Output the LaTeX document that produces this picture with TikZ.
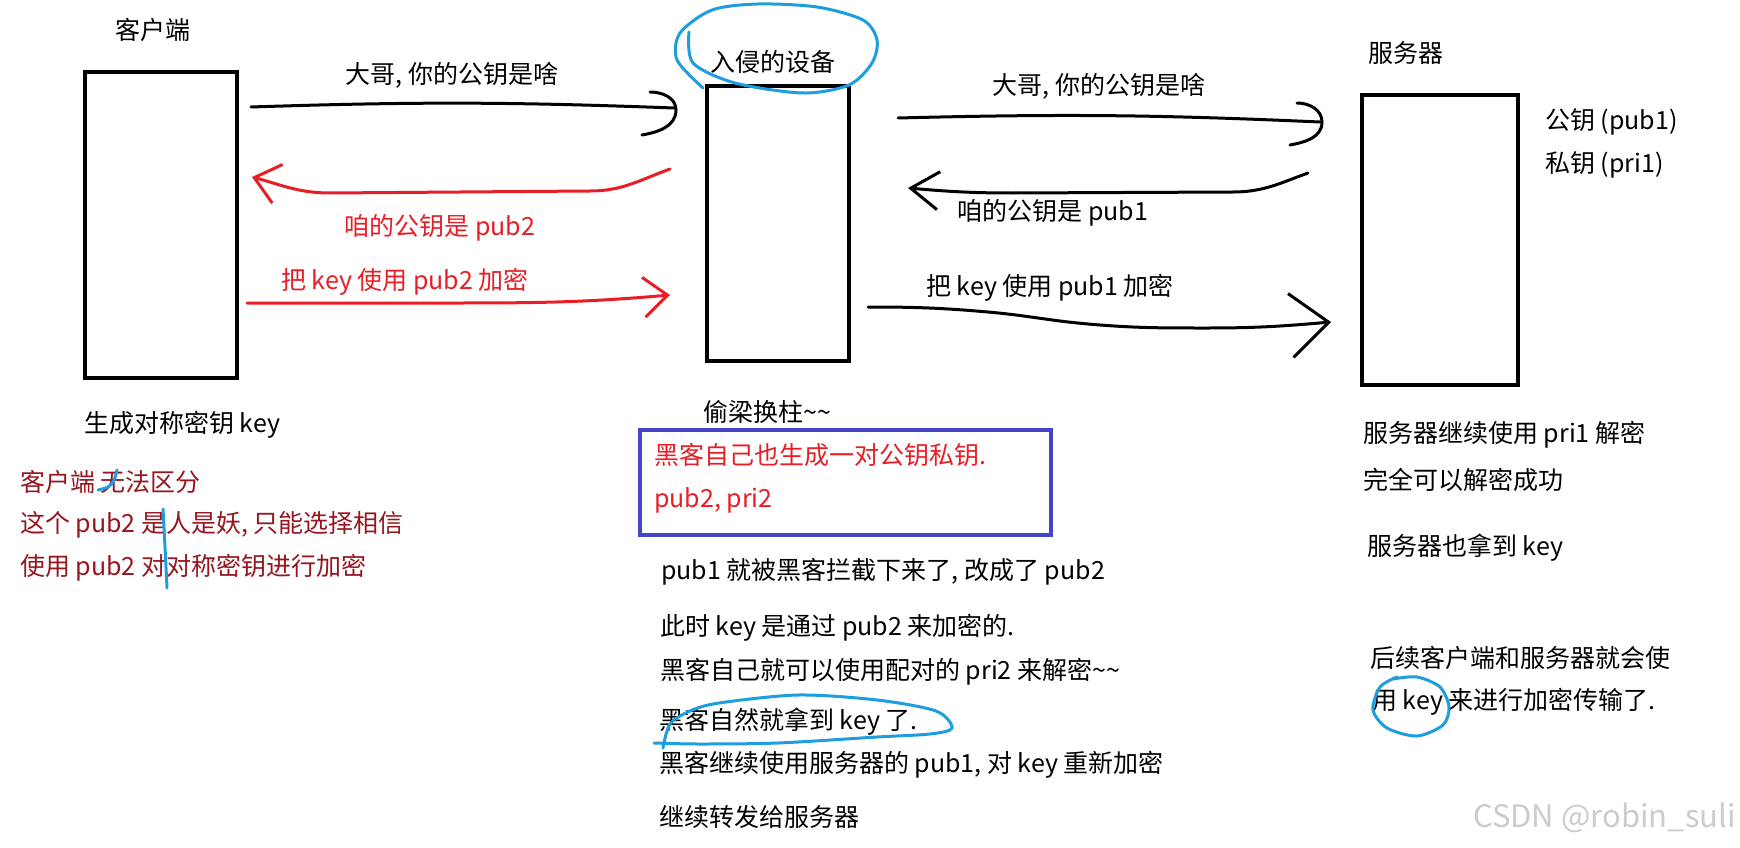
\documentclass[tikz,border=0pt]{standalone}
\usepackage{fontspec}
\setmainfont{Noto Sans CJK SC}
\usetikzlibrary{arrows.meta,calc}
\definecolor{hackred}{RGB}{232,30,38}
\definecolor{notered}{RGB}{150,22,32}
\definecolor{penblue}{RGB}{30,158,222}
\definecolor{boxblue}{RGB}{68,68,200}

\begin{document}
\begin{tikzpicture}[x=1pt, y=-1pt,
    box/.style={draw, line width=4pt, inner sep=0pt},
    txt/.style={font=\fontsize{25}{30}\selectfont, inner sep=0pt, anchor=west},
    lbl/.style={txt, anchor=center},
    pen/.style={draw=penblue, line width=3pt, line cap=round, line join=round},
    blackarrow/.style={line width=3pt, line cap=round, line join=round},
    redarrow/.style={blackarrow, draw=hackred}]

    \path[fill=white, use as bounding box] (0,0) rectangle (1740,848);

    % the three machines
    \node[box, minimum width=152pt, minimum height=306pt] (client) at (161,225) {};
    \node[box, minimum width=142pt, minimum height=275pt] (device) at (778,223.5) {};
    \node[box, minimum width=156pt, minimum height=290pt] (server) at (1440,240) {};

    \node[lbl] (clientname) at (153,30) {客户端};
    \node[lbl] (devicename) at (773,62) {入侵的设备};
    \node[txt] (servername) at (1368,53) {服务器};
    \node[txt] (serverpub) at (1545,122) {公钥 (pub1)};
    \node[txt] (serverpri) at (1545,165) {私钥 (pri1)};

    % client <-> device
    \draw[blackarrow] ($(client.north east)+(12,37)$) to[bend left=2] ($(device.north west)+(-31,24)$) coordinate (hook1);
    \draw[blackarrow] ($(hook1)+(-24,-16)$) to[out=0, in=90] ($(hook1)+(2,2)$) to[out=-90, in=10] ($(hook1)+(-32,27)$);
    \draw[redarrow, -{Straight Barb[length=24pt, width=40pt]}] ($(device.north west)+(-35,85)$) to[out=200, in=0] ++(-80,22) -- ++(-260,2) to[out=180, in=-15] ($(client.north east)+(13,107)$);
    \draw[redarrow, -{Straight Barb[length=24pt, width=40pt]}] ($(client.north east)+(8,233)$) -- ++(210,0) to[out=0, in=185] ($(device.north west)+(-35,211)$);
    \node[lbl] (ask1) at (452,75) {大哥, 你的公钥是啥};
    \node[lbl, text=hackred] (fake) at (440,228) {咱的公钥是 pub2};
    \node[lbl, text=hackred] (enc2) at (405,282) {把 key 使用 pub2 加密};

    % device <-> server
    \draw[blackarrow] ($(device.north east)+(47,34)$) to[bend left=2] ($(server.north west)+(-40,29)$) coordinate (hook2);
    \draw[blackarrow] ($(hook2)+(-23,-19)$) to[out=0, in=90] ($(hook2)+(2,0)$) to[out=-90, in=10] ($(hook2)+(-30,23)$);
    \draw[blackarrow, -{Straight Barb[length=28pt, width=38pt]}] ($(server.north west)+(-52,80)$) to[out=200, in=0] ++(-75,19) -- ++(-220,1) to[out=180, in=-5] ($(device.north east)+(57,104)$);
    \draw[blackarrow, -{Straight Barb[length=38pt, width=64pt]}] ($(device.north east)+(17,223)$) to[out=0, in=175] ++(120,5) to[out=-5, in=175] ++(100,12) to[out=-5, in=180] ++(120,4) to[out=0, in=185] ($(server.north west)+(-29,229)$);
    \node[lbl] (ask2) at (1099,86) {大哥, 你的公钥是啥};
    \node[lbl] (real) at (1053,213) {咱的公钥是 pub1};
    \node[lbl] (enc1) at (1050,288) {把 key 使用 pub1 加密};

    % client notes
    \node[txt] (genkey) at (84,425) {生成对称密钥 key};
    \node[txt, text=notered] (note1) at (20,482) {客户端 无法区分};
    \node[txt, text=notered] (note2) at (20,525) {这个 pub2 是人是妖, 只能选择相信};
    \node[txt, text=notered] (note3) at (20,568) {使用 pub2 对对称密钥进行加密};

    % device notes
    \node[txt] (swap) at (703,412) {偷梁换柱\textasciitilde\textasciitilde};
    \node[box, draw=boxblue, minimum width=411pt, minimum height=105pt] (hackbox) at (845.5,482.5) {};
    \node[txt, text=hackred] (hack1) at (654,455) {黑客自己也生成一对公钥私钥.};
    \node[txt, text=hackred] (hack2) at (654,500) {pub2, pri2};
    \node[txt] (step1) at (661,572) {pub1 就被黑客拦截下来了, 改成了 pub2};
    \node[txt] (step2) at (660,628) {此时 key 是通过 pub2 来加密的.};
    \node[txt] (step3) at (660,672) {黑客自己就可以使用配对的 pri2 来解密\textasciitilde\textasciitilde};
    \node[txt] (step4) at (659,722) {黑客自然就拿到 key 了.};
    \node[txt] (step5) at (659,765) {黑客继续使用服务器的 pub1, 对 key 重新加密};
    \node[txt] (step6) at (659,817) {继续转发给服务器};

    % server notes
    \node[txt] (srv1) at (1363,435) {服务器继续使用 pri1 解密};
    \node[txt] (srv2) at (1363,480) {完全可以解密成功};
    \node[txt] (srv3) at (1367,548) {服务器也拿到 key};
    \node[txt] (srv4) at (1370,658) {后续客户端和服务器就会使};
    \node[txt] (srv5) at (1372,702) {用 key 来进行加密传输了.};

    % blue pen marks
    \draw[pen] plot[smooth] coordinates {(689,32) (693,63) (735,83) (803,93) (849,85) (872,63) (877,40) (863,20) (817,7) (758,4) (712,10) (680,33) (677,60) (703,88)};
    \draw[pen] plot[smooth] coordinates {(663,748) (670,724) (690,711) (719,703) (798,695) (877,700) (936,711) (952,728) (930,734) (877,737) (778,743) (699,744) (654,743)};
    \draw[pen] plot[smooth] coordinates {(1397,677) (1380,687) (1373,710) (1387,728) (1417,736) (1443,725) (1449,707) (1440,687) (1417,677) (1393,679)};
    \draw[pen] plot[smooth] coordinates {(98,490) (108,487) (114,480) (117,470)};
    \draw[pen] plot[smooth] coordinates {(163,509) (165,547) (167,588)};

    \node[txt, font=\fontsize{31}{36}\selectfont, text=black!20] (mark) at (1473,818) {CSDN @robin\_suli};
\end{tikzpicture}
\end{document}
